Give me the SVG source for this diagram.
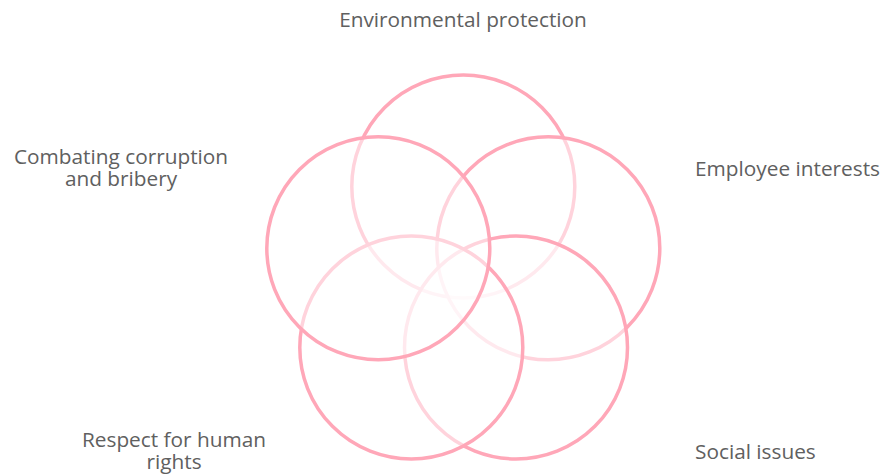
<svg xmlns="http://www.w3.org/2000/svg" width="884" height="476" viewBox="0 0 884 476">
<style>
.c{fill:#ffffff;fill-opacity:0.5;stroke:#ffa7b8;stroke-width:3.5}
.t{font-family:"Open Sans","Liberation Sans",sans-serif;font-size:20.8px;fill:#606060}
</style>
<rect width="884" height="476" fill="#ffffff"/>
<g id="circles">
<g id="env"><circle class="c" cx="463.3" cy="186.5" r="111.5"/></g>
<g id="emp"><circle class="c" cx="548.3" cy="248.3" r="111.5"/></g>
<g id="soc"><circle class="c" cx="516" cy="347.5" r="111.5"/></g>
<g id="hum"><circle class="c" cx="411.3" cy="347.5" r="111.5"/></g>
<g id="cor"><circle class="c" cx="378.3" cy="248.3" r="111.5"/></g>
</g>
<g id="labels">
<text class="t" x="463" y="27" text-anchor="middle">Environmental protection</text>
<text class="t" x="121" y="164" text-anchor="middle">Combating corruption</text>
<text class="t" x="121" y="186" text-anchor="middle">and bribery</text>
<text class="t" x="695" y="176">Employee interests</text>
<text class="t" x="174" y="447" text-anchor="middle">Respect for human</text>
<text class="t" x="174" y="469" text-anchor="middle">rights</text>
<text class="t" x="695" y="459">Social issues</text>
</g>
</svg>
